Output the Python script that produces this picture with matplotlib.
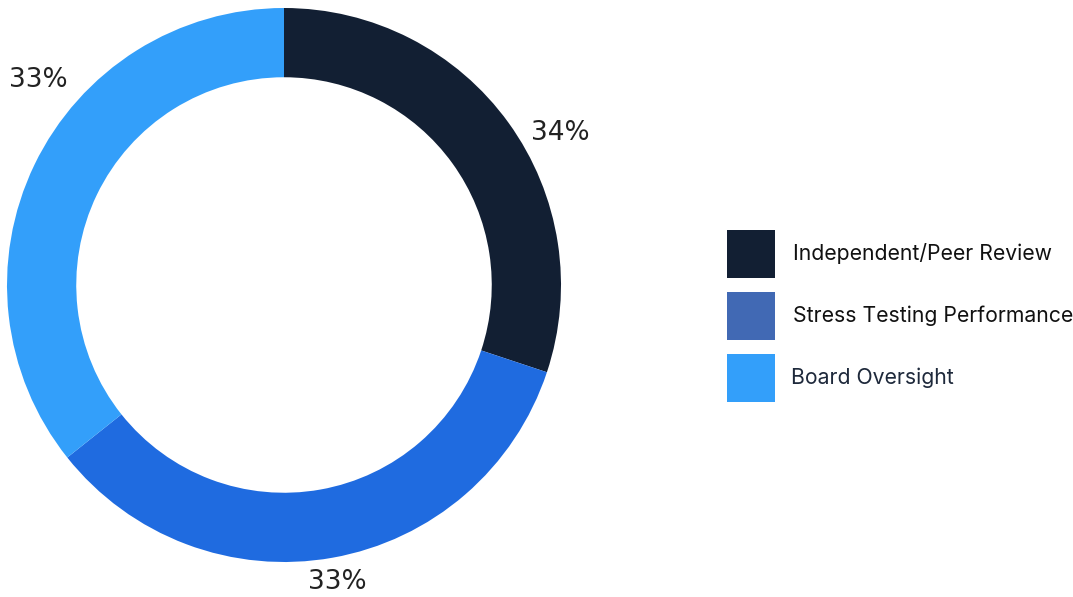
import numpy as np
import matplotlib
matplotlib.use("Agg")
import matplotlib.pyplot as plt
from matplotlib.patches import Rectangle

# Data
categories = ["Independent/Peer Review", "Stress Testing Performance", "Board Oversight"]
values = [30.1, 34.2, 35.7]
pct_labels = ["34%", "33%", "33%"]

wedge_colors = ["#121f33", "#1f6be0", "#339ffa"]
legend_colors = ["#121f33", "#4169b4", "#339ffa"]
legend_text_colors = ["#111111", "#111111", "#1e293b"]

W, H = 1073, 597
fig = plt.figure(figsize=(W / 100, H / 100), dpi=100)

cx, cy, R = 284, 285, 277
ax = fig.add_axes([(cx - R) / W, (H - cy - R) / H, 2 * R / W, 2 * R / H])

wedges, _ = ax.pie(values, colors=wedge_colors, startangle=90, counterclock=False,
                   radius=1, wedgeprops=dict(width=0.25, linewidth=0))
ax.set_xlim(-1, 1)
ax.set_ylim(-1, 1)
ax.set_aspect("equal")
ax.axis("off")

# label angle nudges (degrees) and radii to match the reference layout
nudges = [-7, 0, -14]
radii = [1.14, 1.09, 1.155]
for w, lab, d, r in zip(wedges, pct_labels, nudges, radii):
    mid = np.deg2rad((w.theta1 + w.theta2) / 2 + d)
    ax.text(r * np.cos(mid), r * np.sin(mid), lab, ha="center", va="center",
            fontsize=19, color="#222222", family="DejaVu Sans", clip_on=False)

# Legend (figure pixels)
sw_x, sw_size = 727, 48
sw_tops = [230, 292, 354]
text_x = [793, 793, 791]
for cat, col, tcol, top, tx in zip(categories, legend_colors, legend_text_colors, sw_tops, text_x):
    fig.patches.append(Rectangle((sw_x / W, (H - top - sw_size) / H), sw_size / W, sw_size / H,
                                 transform=fig.transFigure, facecolor=col, edgecolor="none"))
    fig.text(tx / W, (H - top - sw_size / 2) / H, cat, ha="left", va="center",
             fontsize=15.25, color=tcol, family="Inter")

fig.savefig("out.png", dpi=100)
